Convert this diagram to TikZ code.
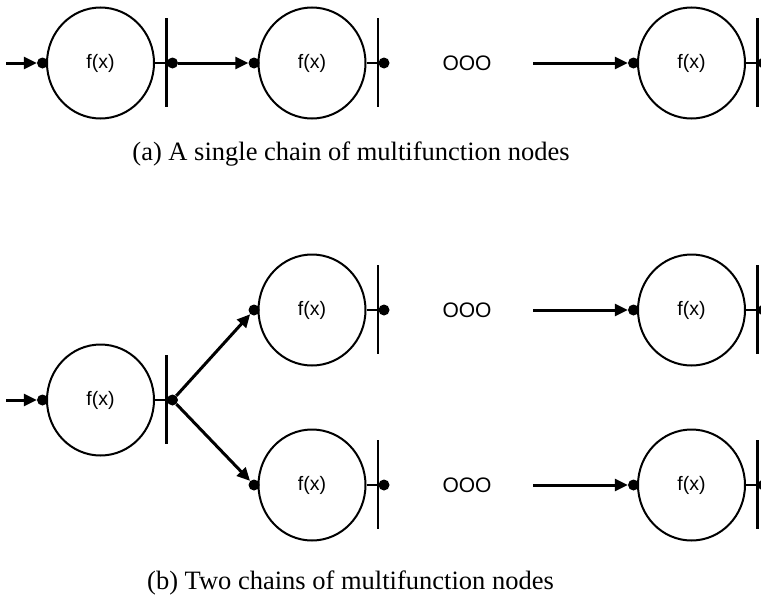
\documentclass[tikz,border=0pt]{standalone}
\usepackage{fontspec}
\setmainfont{Liberation Serif}
\newfontfamily\labelfont{Liberation Sans}
\usetikzlibrary{arrows.meta,shapes.geometric}

\begin{document}
\begin{tikzpicture}[x=1pt,y=-1pt,
  fnode/.style={ellipse, draw, line width=2pt, minimum width=107pt,
    minimum height=111pt, inner sep=0pt,
    font=\labelfont\fontsize{19.5}{19.5}\selectfont},
  pin/.style={circle, fill, inner sep=0pt, minimum size=11pt},
  bar/.style={line width=2.5pt},
  stub/.style={line width=2pt},
  flow/.style={line width=3pt, -{Triangle[length=13pt,width=12pt]}},
  gap/.style={font=\labelfont\fontsize{21}{21}\selectfont},
  caption/.style={font=\fontsize{26.5}{26.5}\selectfont}]
\useasboundingbox (0,0) rectangle (761,597);

% function blocks: ellipse, input pin, output bar and output pin
\foreach \n/\x/\y in {a1/100.5/63, a2/312/63, a3/691.5/63,
                      b1/100.5/400, b2/312/310, b3/312/485,
                      b4/691.5/310, b5/691.5/485} {
  \node[fnode] (\n) at (\x,\y) {f(x)};
  \node[pin] (\n-in) at (\x-58,\y) {};
  \coordinate (\n-bt) at (\x+66,\y-45);
  \coordinate (\n-bb) at (\x+66,\y+44);
  \coordinate (\n-bm) at (\x+66,\y);
  \node[pin] (\n-out) at (\x+72,\y) {};
  \draw[bar] (\n-bt) -- (\n-bb);
  \draw[stub] (\n.east) -- (\n-bm);
}

% (a) single chain
\coordinate (a-src) at (6,63);
\draw[flow] (a-src) -- (a1-in);
\draw[flow] (a1-out) -- (a2-in);
\node[gap] (a-gap) at (467,63) {OOO};
\coordinate (a-from) at (533,63);
\draw[flow] (a-from) -- (a3-in);
\node[caption] (capa) at (351,154.5) {(a) A single chain of multifunction nodes};

% (b) two chains
\coordinate (b-src) at (6,400);
\draw[flow] (b-src) -- (b1-in);
\draw[flow] (b1-out) -- (b2-in);
\draw[flow] (b1-out) -- (b3-in);
\node[gap] (b-gap1) at (467,310) {OOO};
\node[gap] (b-gap2) at (467,485) {OOO};
\coordinate (b-from1) at (533,310);
\coordinate (b-from2) at (533,485);
\draw[flow] (b-from1) -- (b4-in);
\draw[flow] (b-from2) -- (b5-in);
\node[caption] (capb) at (350.5,583) {(b) Two chains of multifunction nodes};
\end{tikzpicture}
\end{document}
